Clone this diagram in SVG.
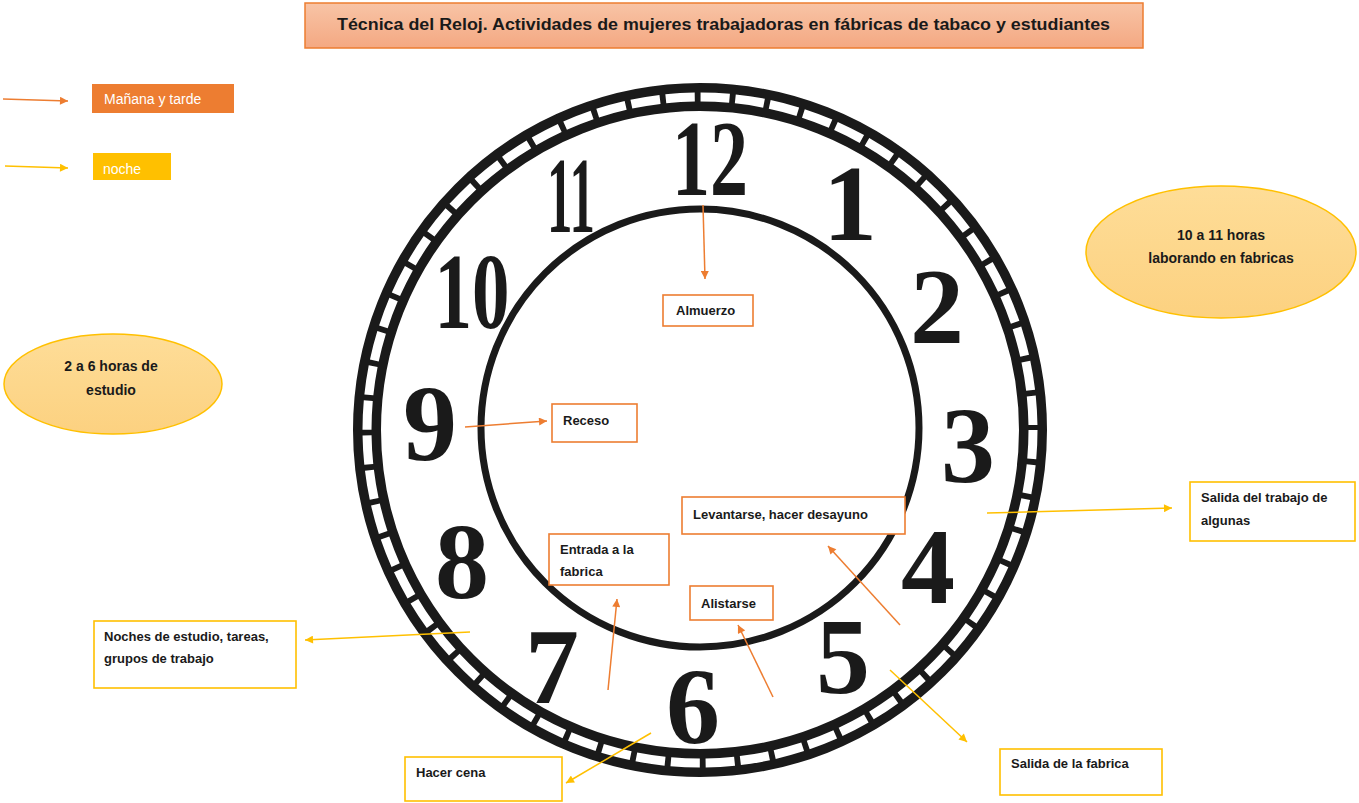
<svg xmlns="http://www.w3.org/2000/svg" width="1359" height="803" viewBox="0 0 1359 803">
<style>
.lbl{font-family:"Liberation Sans",Arial,sans-serif;font-weight:bold;font-size:13px;fill:#1a1a1a}
.ob{fill:#fff;stroke:#ed7d31;stroke-width:1.6}
.yb{fill:#fff;stroke:#ffc000;stroke-width:1.6}
.num{font-family:"Liberation Serif","Times New Roman",serif;font-weight:bold;font-size:108px;fill:#1a1a1a;text-anchor:middle}
.co{stroke:#ed7d31;stroke-width:1.5;fill:none;marker-end:url(#ao)}
.cy{stroke:#ffc000;stroke-width:1.5;fill:none;marker-end:url(#ay)}
.ell{fill:url(#eg);stroke:#ffc000;stroke-width:1.5}
.etx{font-family:"Liberation Sans",Arial,sans-serif;font-weight:bold;font-size:14px;fill:#1a1a1a;text-anchor:middle}
</style>
<defs>
<linearGradient id="tg" x1="0" y1="0" x2="0" y2="1"><stop offset="0" stop-color="#f8c4a6"/><stop offset="1" stop-color="#f4a882"/></linearGradient>
<linearGradient id="eg" x1="0" y1="0" x2="0" y2="1"><stop offset="0" stop-color="#fedd98"/><stop offset="1" stop-color="#fcd180"/></linearGradient>
<marker id="ao" viewBox="0 0 10 10" refX="10" refY="5" markerWidth="10" markerHeight="8" orient="auto" markerUnits="userSpaceOnUse"><path d="M0,0 L10,5 L0,10 z" fill="#ed7d31"/></marker>
<marker id="ay" viewBox="0 0 10 10" refX="10" refY="5" markerWidth="10" markerHeight="8" orient="auto" markerUnits="userSpaceOnUse"><path d="M0,0 L10,5 L0,10 z" fill="#ffc000"/></marker>
</defs>
<rect width="1359" height="803" fill="#fff"/>

<g id="clock">
<circle cx="700" cy="430" r="333" fill="none" stroke="#1a1a1a" stroke-width="28"/>
<circle cx="700" cy="430" r="333" fill="none" stroke="#fff" stroke-width="9" stroke-dasharray="29 5.87"/>
<circle cx="700" cy="428" r="219" fill="none" stroke="#1a1a1a" stroke-width="7"/>
<text class="num" x="710" y="195" textLength="76" lengthAdjust="spacingAndGlyphs">12</text>
<text class="num" x="850" y="240">1</text>
<text class="num" x="937" y="343">2</text>
<text class="num" x="968" y="482">3</text>
<text class="num" x="928" y="603">4</text>
<text class="num" x="843" y="693">5</text>
<text class="num" x="693" y="743">6</text>
<text class="num" x="552" y="703">7</text>
<text class="num" x="462" y="598">8</text>
<text class="num" x="430" y="460">9</text>
<text class="num" x="472" y="328" textLength="75" lengthAdjust="spacingAndGlyphs">10</text>
<text class="num" x="571" y="232" textLength="48" lengthAdjust="spacingAndGlyphs">11</text>
</g>

<g id="title">
<rect x="305" y="3" width="838" height="45" fill="url(#tg)" stroke="#ed7d31" stroke-width="1.5"/>
<text x="337" y="30" font-family="Liberation Sans,Arial,sans-serif" font-weight="bold" font-size="16" fill="#1a1a1a" textLength="773" lengthAdjust="spacingAndGlyphs">Técnica del Reloj. Actividades de mujeres trabajadoras en fábricas de tabaco y estudiantes</text>
</g>

<g id="legend-manana">
<rect x="92" y="84" width="142" height="29" fill="#ed7d31"/>
<text x="104" y="104" font-family="Liberation Sans,Arial,sans-serif" font-size="14" fill="#fff">Mañana y tarde</text>
</g>
<g id="legend-noche">
<rect x="93" y="153" width="78" height="27" fill="#ffc000"/>
<text x="103" y="174" font-family="Liberation Sans,Arial,sans-serif" font-size="14" fill="#fff">noche</text>
</g>

<g id="ellipse-fabrica">
<ellipse class="ell" cx="1221" cy="252" rx="135" ry="66"/>
<text class="etx" x="1221" y="240">10 a 11 horas</text>
<text class="etx" x="1221" y="263">laborando en fabricas</text>
</g>
<g id="ellipse-estudio">
<ellipse class="ell" cx="113" cy="384" rx="109" ry="50"/>
<text class="etx" x="111" y="371">2 a 6 horas de</text>
<text class="etx" x="111" y="395">estudio</text>
</g>

<g id="almuerzo"><rect class="ob" x="663" y="295" width="90" height="31"/><text class="lbl" x="676" y="315">Almuerzo</text></g>
<g id="receso"><rect class="ob" x="552" y="404" width="85" height="38"/><text class="lbl" x="563" y="425">Receso</text></g>
<g id="levantarse"><rect class="ob" x="682" y="497" width="223" height="37"/><text class="lbl" x="693" y="519">Levantarse, hacer desayuno</text></g>
<g id="entrada"><rect class="ob" x="549" y="534" width="120" height="51"/><text class="lbl" x="560" y="554">Entrada a la</text><text class="lbl" x="560" y="576">fabrica</text></g>
<g id="alistarse"><rect class="ob" x="690" y="586" width="83" height="34"/><text class="lbl" x="701" y="608">Alistarse</text></g>
<g id="noches"><rect class="yb" x="94" y="621" width="202" height="67"/><text class="lbl" x="104" y="641">Noches de estudio, tareas,</text><text class="lbl" x="104" y="663">grupos de trabajo</text></g>
<g id="cena"><rect class="yb" x="405" y="757" width="157" height="44"/><text class="lbl" x="416" y="777">Hacer cena</text></g>
<g id="salida-algunas"><rect class="yb" x="1190" y="482" width="165" height="59"/><text class="lbl" x="1201" y="502">Salida del trabajo de</text><text class="lbl" x="1201" y="525">algunas</text></g>
<g id="salida-fabrica"><rect class="yb" x="1000" y="749" width="162" height="46"/><text class="lbl" x="1011" y="768">Salida de la fabrica</text></g>

<g id="connectors">
<line class="co" x1="3" y1="99" x2="68" y2="101"/>
<line class="cy" x1="5" y1="166" x2="68" y2="168"/>
<line class="co" x1="703" y1="205" x2="705" y2="279"/>
<line class="co" x1="465" y1="427" x2="547" y2="421"/>
<line class="co" x1="900" y1="625" x2="828" y2="546"/>
<line class="co" x1="608" y1="690" x2="617" y2="599"/>
<line class="co" x1="773" y1="697" x2="738" y2="625"/>
<line class="cy" x1="470" y1="632" x2="305" y2="640"/>
<line class="cy" x1="651" y1="733" x2="566" y2="783"/>
<line class="cy" x1="987" y1="513" x2="1172" y2="508"/>
<line class="cy" x1="890" y1="670" x2="967" y2="742"/>
</g>
</svg>
